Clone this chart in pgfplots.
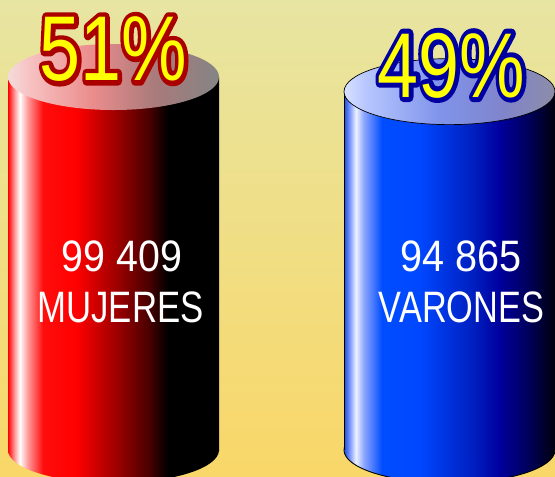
\documentclass[border=0pt]{standalone}
\usepackage{fontspec}
\setmainfont{Liberation Sans}
\usepackage{graphicx}
\usepackage{pgfplots}
\pgfplotsset{compat=1.18}

\definecolor{bgtop}{RGB}{231,229,162}
\definecolor{bgbot}{RGB}{249,215,104}
\definecolor{redline}{RGB}{170,0,0}
\definecolor{blueline}{RGB}{0,0,160}
\definecolor{txtyellow}{RGB}{255,255,0}

\newcommand\outlined[3]{% #1 outline colour, #2 fill colour, #3 text
  \rlap{\special{pdf:literal direct 2 Tr 10 w 1 j 1 J}\textcolor{#1}{#3}\special{pdf:literal direct 0 Tr}}%
  \textcolor{#2}{#3}}

% side shadings (path mapped to 25bp..75bp)
\pgfdeclarehorizontalshading{redside}{100bp}{%
 rgb(0bp)=(1,0,0); rgb(25bp)=(1,0,0); rgb(26.4bp)=(1,0.55,0.55); rgb(27.8bp)=(1,1,1);
 rgb(29.7bp)=(1,0.6,0.6); rgb(33.3bp)=(1,0.05,0.05); rgb(41.1bp)=(1,0,0);
 rgb(51.1bp)=(0.6,0,0); rgb(58.2bp)=(0.3,0,0); rgb(62.9bp)=(0,0,0); rgb(75bp)=(0,0,0); rgb(100bp)=(0,0,0)}
\pgfdeclarehorizontalshading{blueside}{100bp}{%
 rgb(0bp)=(0.1,0.3,0.85); rgb(25bp)=(0.1,0.3,0.85); rgb(26.4bp)=(0.5,0.6,1); rgb(27.8bp)=(0.93,0.95,1);
 rgb(29.7bp)=(0.55,0.65,1); rgb(34bp)=(0,0.3,1); rgb(42.8bp)=(0,0.28,1);
 rgb(55.8bp)=(0,0.12,0.75); rgb(61.7bp)=(0,0,0.62); rgb(68.8bp)=(0,0,0.35); rgb(75bp)=(0,0,0.05); rgb(100bp)=(0,0,0.05)}
\pgfdeclarehorizontalshading{redtop}{100bp}{%
 rgb(0bp)=(0.96,0.86,0.86); rgb(25bp)=(0.96,0.86,0.86); rgb(30bp)=(0.97,0.76,0.76);
 rgb(45bp)=(0.92,0.55,0.55); rgb(60bp)=(0.66,0.48,0.48); rgb(75bp)=(0.52,0.52,0.52); rgb(100bp)=(0.52,0.52,0.52)}
\pgfdeclarehorizontalshading{bluetop}{100bp}{%
 rgb(0bp)=(0.85,0.88,1); rgb(25bp)=(0.85,0.88,1); rgb(30bp)=(0.72,0.78,1);
 rgb(47.5bp)=(0.5,0.58,0.92); rgb(62.5bp)=(0.5,0.52,0.8); rgb(75bp)=(0.55,0.55,0.66); rgb(100bp)=(0.55,0.55,0.66)}

\pgfdeclareplotmark{redbottom}{%
 \pgfpathellipse{\pgfpointorigin}{\pgfqpoint{105.5pt}{0pt}}{\pgfqpoint{0pt}{33pt}}%
 \pgfshadepath{redside}{0}\pgfusepath{discard}}
\pgfdeclareplotmark{bluebottom}{%
 \pgfpathellipse{\pgfpointorigin}{\pgfqpoint{105.5pt}{0pt}}{\pgfqpoint{0pt}{33pt}}%
 \pgfshadepath{blueside}{0}\pgfsetstrokecolor{black}\pgfsetlinewidth{0.9pt}\pgfusepath{stroke}}
\pgfdeclareplotmark{redcap}{%
 \pgfpathellipse{\pgfpointorigin}{\pgfqpoint{105.5pt}{0pt}}{\pgfqpoint{0pt}{33pt}}%
 \pgfshadepath{redtop}{0}\pgfusepath{discard}}
\pgfdeclareplotmark{bluecap}{%
 \pgfpathellipse{\pgfpointorigin}{\pgfqpoint{105.5pt}{0pt}}{\pgfqpoint{0pt}{33pt}}%
 \pgfshadepath{bluetop}{0}\pgfsetstrokecolor{black}\pgfsetlinewidth{0.7pt}\pgfusepath{stroke}}

\begin{document}
\begin{tikzpicture}
\begin{axis}[
  width=555pt, height=477pt, scale only axis,
  xmin=0, xmax=555, ymin=-3.69, ymax=61.53,
  hide axis, clip=true, clip marker paths=true,
]
\shade[top color=bgtop, bottom color=bgbot] (rel axis cs:0,0) rectangle (rel axis cs:1,1);

% MUJERES cylinder
\addplot[only marks, mark=redbottom] coordinates {(113.5,0)};
\addplot[ybar, bar width=211, bar shift=0pt, draw=none, shade, shading=redside] coordinates {(113.5,51)};
\addplot[only marks, mark=redcap] coordinates {(113.5,51)};

% VARONES cylinder
\addplot[only marks, mark=bluebottom] coordinates {(449.5,0)};
\addplot[ybar, bar width=211, bar shift=0pt, draw=none, shade, shading=blueside] coordinates {(449.5,49)};
\addplot[black, line width=0.9pt] coordinates {(344,0) (344,49)};
\addplot[only marks, mark=bluecap] coordinates {(449.5,49)};

% labels
\node[anchor=base, inner sep=0pt, text=white, font=\fontsize{44}{44}\selectfont] at (axis cs:122,24.34) {\scalebox{0.895}[1]{99 409}};
\node[anchor=base, inner sep=0pt, text=white, font=\fontsize{44}{44}\selectfont] at (axis cs:120.5,17.5) {\scalebox{0.79}[1]{MUJERES}};
\node[anchor=base, inner sep=0pt, text=white, font=\fontsize{44}{44}\selectfont] at (axis cs:461,24.34) {\scalebox{0.9}[1]{94 865}};
\node[anchor=base, inner sep=0pt, text=white, font=\fontsize{44}{44}\selectfont] at (axis cs:461.5,17.5) {\scalebox{0.78}[1]{VARONES}};

\node[anchor=base, inner sep=0pt, font=\fontsize{92}{92}\selectfont] at (axis cs:113.5,50.5) {\scalebox{0.8}[1]{\outlined{redline}{txtyellow}{51\%}}};
\node[anchor=base, inner sep=0pt, font=\fontsize{92}{92}\selectfont] at (axis cs:451.5,48.26) {\scalebox{0.8}[1]{\outlined{blueline}{txtyellow}{49\%}}};
\end{axis}
\pgfresetboundingbox
\path[use as bounding box] (current axis.south west) rectangle (current axis.north east);
\end{tikzpicture}
\end{document}
